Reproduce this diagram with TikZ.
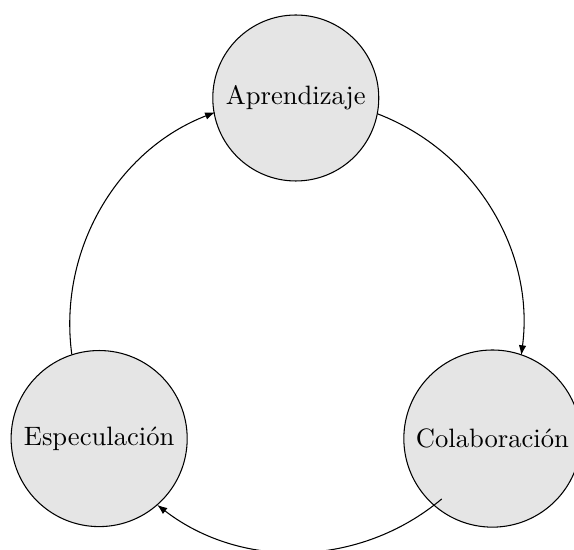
\documentclass[tikz,border=0pt]{standalone}
\usetikzlibrary{arrows.meta}
\begin{document}
\begin{tikzpicture}[
  phase/.style={circle, draw=black, fill=gray!20, inner sep=0pt, line width=0.4pt},
  flow/.style={-{Latex[length=3.8pt,width=2.8pt]}, line width=0.4pt}
]
% canvas
\useasboundingbox (-111.2pt,-84.2pt) rectangle (104.6pt,122.2pt);
\coordinate (hub) at (0,0);

% the three phases, evenly spaced on a 3cm circle
\node[phase, minimum size=62.4pt] (apr) at (90:3cm)  {Aprendizaje};
\node[phase, minimum size=66.2pt] (esp) at (210:3cm) {Especulación};
\node[phase, minimum size=66.6pt] (col) at (330:3cm) {Colaboración};

% cycle arrows following the same circle
\path (hub) ++(310:3cm) coordinate (tail);
\draw[flow] (esp.108.82) arc[start angle=187.64, end angle=111.07, radius=3cm];
\draw[flow] (apr.349.47) arc[start angle=68.93, end angle=-7.5, radius=3cm];
\draw[flow] (tail) arc[start angle=310, end angle=232.36, radius=3cm];
\end{tikzpicture}
\end{document}
